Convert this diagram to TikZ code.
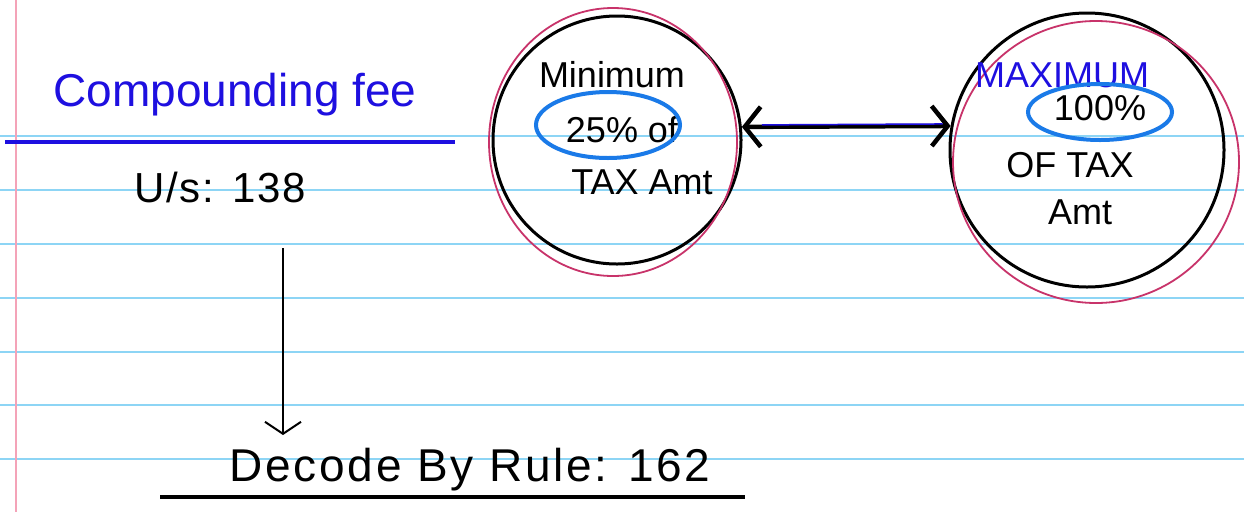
\documentclass[tikz,border=0pt]{standalone}
\usepackage{fontspec}
\setmainfont{Liberation Sans}
\usetikzlibrary{arrows.meta,calc}
\definecolor{ruleblue}{HTML}{8DD5F5}
\definecolor{marginpink}{HTML}{F4A3B8}
\definecolor{inkblue}{HTML}{1E0FE0}
\definecolor{hiblue}{HTML}{1A7AE8}
\definecolor{rose}{HTML}{C8336A}
\tikzset{
  paperline/.style={ruleblue, line width=1.5pt},
  ink/.style={font=\fontsize{36}{38}\selectfont, text=black, inner sep=0pt},
  bigcircle/.style={circle, draw=black, line width=3pt},
  rosering/.style={rose, line width=1.8pt},
  hiring/.style={hiblue, line width=4pt},
  heavyarrow/.style={black, line width=4.5pt, {Straight Barb[length=16pt,width=40pt]}-{Straight Barb[length=16pt,width=40pt]}},
  downarrow/.style={black, line width=2pt, -{Straight Barb[length=12pt,width=36pt]}},
  underline/.style={line width=4pt},
}
\begin{document}
\begin{tikzpicture}[x=1pt,y=-1pt]
\useasboundingbox (0,0) rectangle (1244,512);
\fill[white] (0,0) rectangle (1244,512);
% lined paper
\foreach \yy in {136,190,244,298,352,405,459} {\draw[paperline] (0,\yy) -- (1244,\yy);}
\draw[marginpink, line width=1.5pt] (16,0) -- (16,512);

% left heading
\node[ink, text=inkblue, font=\fontsize{46}{48}\selectfont] (title) at (235,95) {Compounding fee};
\draw[inkblue, underline] (5,142) coordinate (t1) -- (455,142) coordinate (t2);
\node[ink, font=\fontsize{42}{44}\selectfont\addfontfeatures{LetterSpace=4}] (us) at (220,187) {U/s: 138};

% decode
\node[ink, font=\fontsize{46}{48}\selectfont\addfontfeatures{LetterSpace=6}] (decode) at (470,470) {Decode By Rule: 162};
\draw[black, underline] (160,497) coordinate (d1) -- (745,497) coordinate (d2);
\coordinate (a1) at (283,248);
\coordinate (a2) at (283,435);
\draw[downarrow] (a1) -- (a2);

% left circle
\node[bigcircle, minimum size=248pt] (c1) at (617,140) {};
\draw[rosering] (613,142) ellipse [x radius=124pt, y radius=134pt];
\node[ink] (min) at (612,75) {Minimum};
\node[ink] (pct1) at (622,130) {25\% of};
\node[ink] (tax1) at (642,182) {TAX Amt};
\draw[hiring] (608,125) ellipse [x radius=72pt, y radius=33pt];

% right circle
\node[bigcircle, minimum size=274pt] (c2) at (1087,150) {};
\draw[rosering] (1096,162) ellipse [x radius=143pt, y radius=141pt];
\node[ink, text=inkblue] (max) at (1062,75) {MAXIMUM};
\node[ink] (pct2) at (1100,108) {100\%};
\node[ink] (tax2) at (1070,165) {OF TAX};
\node[ink] (amt2) at (1080,212) {Amt};
\draw[hiring] (1100,112) ellipse [x radius=72pt, y radius=28pt];

% double arrow
\draw[heavyarrow] (c1.6) -- (c2.170);
\draw[inkblue, line width=1.5pt] ($(c1.6)+(20,-2)$) -- ($(c2.170)+(-8,-2)$);
\end{tikzpicture}
\end{document}
